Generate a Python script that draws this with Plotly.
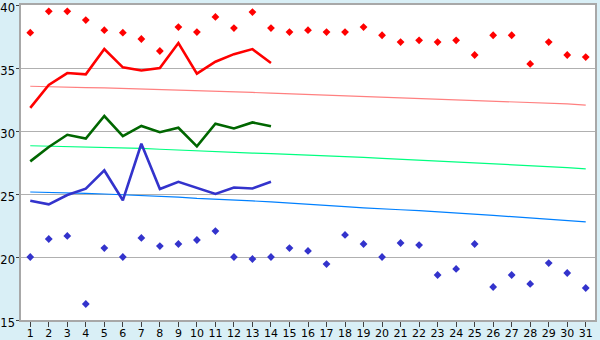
import plotly.graph_objects as go

days = [str(d) for d in range(1, 32)]

# daily record high (red diamonds)
rec_high = [37.8, 39.5, 39.5, 38.8, 38.0, 37.8, 37.3, 36.35, 38.25, 37.85,
            39.05, 38.17, 39.44, 38.17, 37.85, 38.0, 37.85, 37.85, 38.25, 37.6,
            37.06, 37.2, 37.06, 37.2, 36.03, 37.6, 37.6, 35.32, 37.06, 36.03, 35.87]
# daily record low (blue diamonds)
rec_low = [20.0, 21.43, 21.67, 16.27, 20.71, 20.0, 21.51, 20.87, 21.03, 21.35,
           22.06, 20.0, 19.84, 20.0, 20.71, 20.48, 19.44, 21.75, 21.03, 20.0,
           21.11, 20.95, 18.57, 19.05, 21.03, 17.62, 18.57, 17.86, 19.52, 18.73, 17.54]
# observed (first 14 days)
obs_max = [31.83, 33.65, 34.6, 34.5, 36.5, 35.05, 34.8, 35.0, 36.98, 34.55, 35.5, 36.1, 36.5, 35.4]
obs_mean = [27.59, 28.73, 29.7, 29.4, 31.19, 29.6, 30.4, 29.9, 30.26, 28.78, 30.58, 30.2, 30.68, 30.37]
obs_min = [24.47, 24.18, 24.92, 25.42, 26.87, 24.5, 28.99, 25.4, 25.97, 25.5, 25.0, 25.52, 25.44, 25.97]
# normals
norm_max = [33.55, 33.5, 33.47, 33.45, 33.42, 33.38, 33.35, 33.3, 33.27, 33.23,
            33.18, 33.12, 33.06, 33.0, 32.95, 32.9, 32.85, 32.8, 32.75, 32.68,
            32.62, 32.58, 32.54, 32.5, 32.45, 32.38, 32.32, 32.28, 32.22, 32.15, 32.05]
norm_mean = [28.83, 28.8, 28.76, 28.72, 28.7, 28.67, 28.62, 28.55, 28.48, 28.4,
             28.35, 28.3, 28.25, 28.2, 28.15, 28.1, 28.05, 27.98, 27.9, 27.83,
             27.76, 27.7, 27.62, 27.55, 27.46, 27.4, 27.32, 27.25, 27.18, 27.1, 27.0]
norm_min = [25.16, 25.14, 25.1, 25.05, 25.0, 24.95, 24.9, 24.85, 24.75, 24.65,
            24.6, 24.52, 24.45, 24.38, 24.3, 24.2, 24.1, 24.0, 23.9, 23.8,
            23.75, 23.68, 23.6, 23.5, 23.42, 23.3, 23.2, 23.1, 23.0, 22.9, 22.78]

y_ticks = [15, 20, 25, 30, 35, 40]

fig = go.Figure()
fig.add_trace(go.Scatter(x=days, y=norm_max, mode="lines", line=dict(color="#ff8080", width=1.2)))
fig.add_trace(go.Scatter(x=days, y=norm_mean, mode="lines", line=dict(color="#00ff80", width=1.2)))
fig.add_trace(go.Scatter(x=days, y=norm_min, mode="lines", line=dict(color="#0080ff", width=1.2)))
fig.add_trace(go.Scatter(x=days[:14], y=obs_max, mode="lines", line=dict(color="#ff0000", width=2.6)))
fig.add_trace(go.Scatter(x=days[:14], y=obs_mean, mode="lines", line=dict(color="#006600", width=2.6)))
fig.add_trace(go.Scatter(x=days[:14], y=obs_min, mode="lines", line=dict(color="#3333cc", width=2.6)))
fig.add_trace(go.Scatter(x=days, y=rec_high, mode="markers",
                         marker=dict(symbol="diamond", size=6, color="#ff0000")))
fig.add_trace(go.Scatter(x=days, y=rec_low, mode="markers",
                         marker=dict(symbol="diamond", size=6, color="#3333cc")))

fig.update_layout(
    width=600, height=340,
    margin=dict(l=21, r=5, t=5, b=20, autoexpand=False),
    paper_bgcolor="#d9eff6",
    plot_bgcolor="#ffffff",
    showlegend=False,
    font=dict(family="DejaVu Sans", size=11, color="#000000"),
)
fig.update_xaxes(
    type="category", range=[-0.5, 30.5], automargin=False,
    showgrid=False, showline=True, linecolor="#a8a8a8", linewidth=1.5, mirror=True,
    ticks="outside", ticklen=5, tickcolor="#404040",
    tickfont=dict(size=11), ticklabelstandoff=-3, ticklabeloverflow="allow",
)
fig.update_yaxes(
    range=[15, 40], tickvals=y_ticks, automargin=False,
    showgrid=True, gridcolor="#b0b0b0", gridwidth=1.2,
    showline=True, linecolor="#a8a8a8", linewidth=1.5, mirror=True,
    ticks="outside", ticklen=3, tickcolor="#404040",
    tickfont=dict(size=11.5), zeroline=False, ticklabeloverflow="allow",
    ticklabelstandoff=-1, ticklabelshift=3,
)
fig.write_html("out.html")
